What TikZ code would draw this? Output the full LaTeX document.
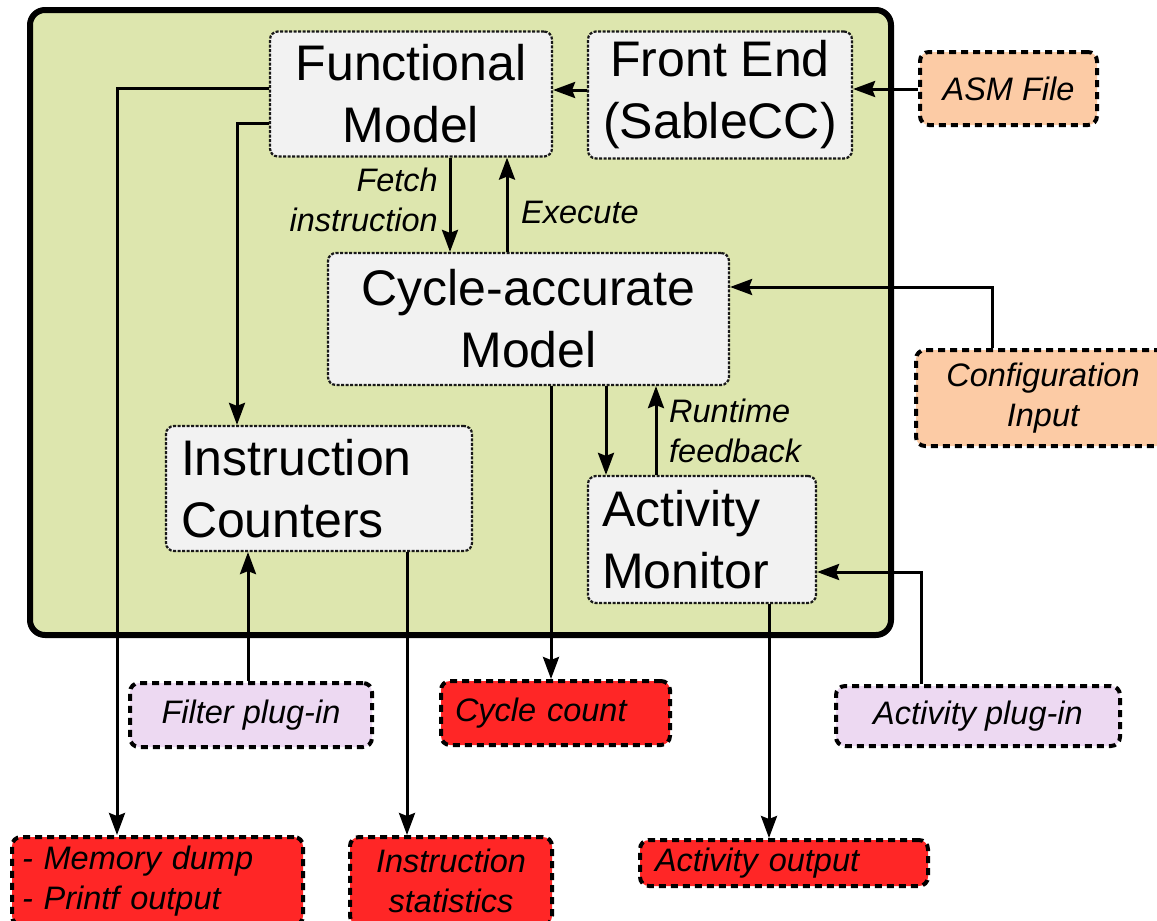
\documentclass[tikz,border=0pt]{standalone}
\usepackage{fontspec}
\setmainfont{Liberation Sans}
\usetikzlibrary{arrows.meta}
\definecolor{frameGreen}{RGB}{221,230,174}
\definecolor{boxGray}{RGB}{242,242,242}
\definecolor{peach}{RGB}{252,203,165}
\definecolor{lavender}{RGB}{237,217,242}
\definecolor{outRed}{RGB}{255,38,38}
\tikzset{
  inner/.style={draw=black!90, fill=boxGray, line width=2.2pt, dash pattern=on 3pt off 1.5pt,
    rounded corners=8pt, inner sep=0pt, font=\fontsize{50}{62}\selectfont},
  outer/.style={draw=black, line width=4pt, dash pattern=on 7pt off 5pt,
    rounded corners=9pt, inner sep=0pt, font=\itshape\fontsize{32.5}{40}\selectfont},
  lbl/.style={inner sep=0pt, font=\itshape\fontsize{32.5}{40}\selectfont},
  arr/.style={draw=black, line width=3pt, -{Stealth[length=22pt,width=16pt,inset=3pt]}},
}
\begin{document}
\begin{tikzpicture}[x=1pt,y=-1pt]
\useasboundingbox (0,0) rectangle (1157,921);

% simulator frame
\draw[line width=6pt, rounded corners=15pt, fill=frameGreen] (30,10) rectangle (891,635);

% internal blocks
\node[inner, minimum width=282pt, minimum height=125pt, align=center] (fm) at (411,94) {Functional\\Model};
\node[inner, minimum width=264pt, minimum height=127pt, align=center] (fe) at (720,95) {Front End\\(SableCC)};
\node[inner, minimum width=401pt, minimum height=132pt, align=center] (cam) at (528.5,319) {Cycle-accurate\\Model};
\node[inner, minimum width=306pt, minimum height=125pt, text width=276pt, inner xsep=15pt, align=left] (ic) at (319,488.5) {Instruction\\Counters};
\node[inner, minimum width=228pt, minimum height=127pt, text width=200pt, inner xsep=14pt, align=left] (am) at (702,539.5) {Activity\\Monitor};

% inputs
\node[outer, fill=peach, minimum width=177pt, minimum height=73pt] (asm) at (1008.5,88.5) {ASM File};
\node[outer, fill=peach, minimum width=254pt, minimum height=96pt, align=center] (cfg) at (1043,398) {Configuration\\Input};
\node[outer, fill=lavender, minimum width=242pt, minimum height=64pt] (fp) at (251,715) {Filter plug-in};
\node[outer, fill=lavender, minimum width=284pt, minimum height=60pt] (ap) at (978,716) {Activity plug-in};

% outputs
\node[outer, fill=outRed, minimum width=229pt, minimum height=64pt, text width=201pt, inner xsep=14pt, align=left] (cc) at (555.5,713) {Cycle count};
\node[outer, fill=outRed, minimum width=291pt, minimum height=88pt, text width=271pt, inner xsep=10pt, align=left] (md) at (157.5,881) {- Memory dump\\- Printf output};
\node[outer, fill=outRed, minimum width=202pt, minimum height=88pt, align=center] (is) at (451,881) {Instruction\\statistics};
\node[outer, fill=outRed, minimum width=288pt, minimum height=46pt, text width=258pt, inner xsep=15pt, align=left] (ao) at (784,863) {Activity output};

% connectors
\draw[arr] (asm.west |- 0,89) -- (fe.east |- 0,89);
\draw[arr] (fe.west |- 0,90) -- (fm.east |- 0,90);
\draw[arr] (fm.west |- 0,88) -| (md.north -| 117,0);
\draw[arr] (fm.west |- 0,123) -| (ic.north -| 237,0);
\draw[arr] (fm.south -| 450,0) -- (cam.north -| 450,0);
\draw[arr] (cam.north -| 507,0) -- (fm.south -| 507,0);
\draw[arr] (cfg.north -| 992,0) |- (cam.east |- 0,287);
\draw[arr] (cam.south -| 551,0) -- (cc.north -| 551,0);
\draw[arr] (cam.south -| 606,0) -- (am.north -| 606,0);
\draw[arr] (am.north -| 656,0) -- (cam.south -| 656,0);
\draw[arr] (ic.south -| 407,0) -- (is.north -| 407,0);
\draw[arr] (fp.north -| 248,0) -- (ic.south -| 248,0);
\draw[arr] (ap.north -| 921,0) |- (am.east |- 0,572);
\draw[arr] (am.south -| 769,0) -- (ao.north -| 769,0);

% connector labels
\node[lbl, anchor=east, align=right] (fetch) at (438,200) {Fetch\\instruction};
\node[lbl, anchor=west] (exec) at (521,212) {Execute};
\node[lbl, anchor=west, align=left] (rtf) at (669,431) {Runtime\\feedback};
\end{tikzpicture}
\end{document}
